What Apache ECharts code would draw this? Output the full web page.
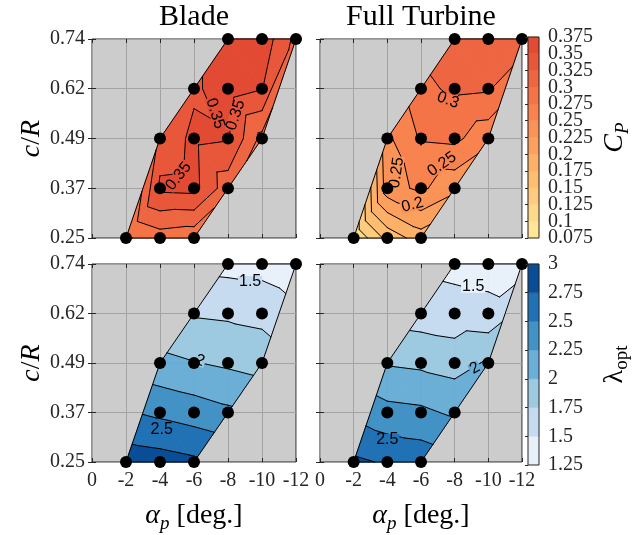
<!DOCTYPE html>
<html><head><meta charset="utf-8">
<script src="https://cdn.jsdelivr.net/npm/echarts@6/dist/echarts.min.js"></script>
<style>html,body{margin:0;padding:0;background:#fff}#c{width:633px;height:535px}</style>
</head><body><div id="c"></div>
<script>
// ---------- data ----------
const alphaP = [-2, -4, -6, -4, -6, -8, -4, -6, -8, -10, -6, -8, -10, -8, -10, -12];
const cR = [0.247, 0.247, 0.247, 0.3705, 0.3705, 0.3705, 0.494, 0.494, 0.494, 0.494, 0.6175, 0.6175, 0.6175, 0.741, 0.741, 0.741];
const cRTicks = [0.247, 0.3705, 0.494, 0.6175, 0.741];
const cRLabels = ['0.25', '0.37', '0.49', '0.62', '0.74'];
const alphaTicks = [0, -2, -4, -6, -8, -10, -12];

const cpBlade    = [0.272, 0.288, 0.283, 0.356, 0.358, 0.310, 0.332, 0.356, 0.352, 0.292, 0.346, 0.362, 0.351, 0.362, 0.366, 0.318];
const cpTurbine  = [0.102, 0.158, 0.188, 0.240, 0.255, 0.232, 0.245, 0.278, 0.281, 0.258, 0.292, 0.306, 0.303, 0.321, 0.323, 0.316];
const lamBlade   = [2.90, 2.86, 2.80, 2.45, 2.38, 2.30, 2.07, 2.01, 1.96, 1.90, 1.73, 1.71, 1.68, 1.42, 1.41, 1.33];
const lamTurbine = [2.80, 2.72, 2.66, 2.33, 2.30, 2.21, 1.98, 1.95, 1.90, 2.03, 1.63, 1.60, 1.57, 1.43, 1.41, 1.36];

const cpLevels = [0.075, 0.1, 0.125, 0.15, 0.175, 0.2, 0.225, 0.25, 0.275, 0.3, 0.325, 0.35, 0.375];
const cpTickLabels = ['0.075', '0.1', '0.125', '0.15', '0.175', '0.2', '0.225', '0.25', '0.275', '0.3', '0.325', '0.35', '0.375'];
const cpColors = ['#fee598', '#fed98a', '#fecc7e', '#fdbe72', '#fdb068', '#fca05e', '#fb9256', '#f8834e', '#f47448', '#ee6542', '#e9573b', '#e34a33'];
const lamLevels = [1.25, 1.5, 1.75, 2, 2.25, 2.5, 2.75, 3];
const lamTickLabels = ['1.25', '1.5', '1.75', '2', '2.25', '2.5', '2.75', '3'];
const lamColors = ['#e8f0f9', '#c6dbef', '#9ecae1', '#6baed6', '#4292c6', '#2171b5', '#084d96'];

// contour labels: [text, alpha, c/R, rotation deg]
const cpBladeLabels = [['0.35', -5.1, 0.400, 52], ['0.35', -7.25, 0.556, -72], ['0.35', -8.45, 0.552, 72]];
const cpTurbineLabels = [['0.3', -7.6, 0.589, -20], ['0.25', -4.55, 0.409, 82], ['0.25', -7.25, 0.430, 35], ['0.2', -5.5, 0.329, 15]];
const lamBladeLabels = [['1.5', -9.3, 0.696, 0], ['2', -6.35, 0.500, -20], ['2.5', -4.1, 0.327, 0]];
const lamTurbineLabels = [['1.5', -9.1, 0.684, 0], ['2', -9.2, 0.481, 30], ['2.5', -4.0, 0.302, 0]];

// ---------- triangulation (Delaunay, Bowyer-Watson) ----------
function delaunay(px, py) {
  const n = px.length, X = px.slice(), Y = py.slice();
  X.push(-1000, 1000, 0); Y.push(-1000, -1000, 1000);
  let tris = [[n, n + 1, n + 2]];
  function inCirc(t, x, y) {
    const a = t[0], b = t[1], c = t[2];
    const ax = X[a] - x, ay = Y[a] - y, bx = X[b] - x, by = Y[b] - y, cx = X[c] - x, cy = Y[c] - y;
    const det = (ax * ax + ay * ay) * (bx * cy - cx * by) - (bx * bx + by * by) * (ax * cy - cx * ay) + (cx * cx + cy * cy) * (ax * by - bx * ay);
    const o = (X[b] - X[a]) * (Y[c] - Y[a]) - (Y[b] - Y[a]) * (X[c] - X[a]);
    return o > 0 ? det > 0 : det < 0;
  }
  for (let i = 0; i < n; i++) {
    const bad = [], keep = [];
    tris.forEach(t => (inCirc(t, X[i], Y[i]) ? bad : keep).push(t));
    const edges = [];
    bad.forEach(t => {
      [[t[0], t[1]], [t[1], t[2]], [t[2], t[0]]].forEach(e => {
        const j = edges.findIndex(f => (f[0] === e[0] && f[1] === e[1]) || (f[0] === e[1] && f[1] === e[0]));
        if (j >= 0) edges.splice(j, 1); else edges.push(e);
      });
    });
    edges.forEach(e => keep.push([e[0], e[1], i]));
    tris = keep;
  }
  return tris.filter(t => t[0] < n && t[1] < n && t[2] < n);
}
const rowOf = cR.map(v => cRTicks.indexOf(v));
const tris = delaunay(alphaP, rowOf.map(r => r * 3));
const edgeCount = {};
tris.forEach(t => { for (let e = 0; e < 3; e++) { const a = t[e], b = t[(e + 1) % 3]; const k = Math.min(a, b) + '-' + Math.max(a, b); edgeCount[k] = (edgeCount[k] || 0) + 1; } });

function clipPoly(poly, L, above) {
  const out = [], n = poly.length;
  const inside = p => above ? p[2] >= L : p[2] <= L;
  const inter = (a, b) => { const s = (L - a[2]) / (b[2] - a[2]); return [a[0] + s * (b[0] - a[0]), a[1] + s * (b[1] - a[1]), L]; };
  for (let i = 0; i < n; i++) {
    const cur = poly[i], prev = poly[(i + n - 1) % n];
    const ci = inside(cur), pi = inside(prev);
    if (ci) { if (!pi) out.push(inter(prev, cur)); out.push(cur); }
    else if (pi) out.push(inter(prev, cur));
  }
  return out;
}
// linear interpolation of a panel's values at (x, y) in data space
function interpAt(vals, x, y) {
  for (const t of tris) {
    const [a, b, c] = t;
    const x1 = alphaP[a], y1 = cR[a], x2 = alphaP[b], y2 = cR[b], x3 = alphaP[c], y3 = cR[c];
    const d = (y2 - y3) * (x1 - x3) + (x3 - x2) * (y1 - y3);
    const l1 = ((y2 - y3) * (x - x3) + (x3 - x2) * (y - y3)) / d;
    const l2 = ((y3 - y1) * (x - x3) + (x1 - x3) * (y - y3)) / d;
    const l3 = 1 - l1 - l2;
    if (l1 >= -1e-9 && l2 >= -1e-9 && l3 >= -1e-9) return l1 * vals[a] + l2 * vals[b] + l3 * vals[c];
  }
  return null;
}

function contourRender(panel) {
  return function (params, api) {
    const t = tris[api.value(2)];
    const P = t.map(i => [alphaP[i], cR[i], panel.vals[i]]);
    const L = panel.levels, ch = [];
    for (let k = 0; k < L.length - 1; k++) {
      let poly = clipPoly(P, L[k], true);
      poly = clipPoly(poly, L[k + 1], false);
      if (poly.length >= 3) ch.push({ type: 'polygon', z2: 1, shape: { points: poly.map(q => api.coord([q[0], q[1]])) }, style: { fill: panel.colors[k], stroke: panel.colors[k], lineWidth: 0.7 } });
    }
    for (let k = 1; k < L.length - 1; k++) {
      const pts = [];
      for (let e = 0; e < 3; e++) {
        const a = P[e], b = P[(e + 1) % 3];
        if ((a[2] < L[k]) !== (b[2] < L[k])) {
          const s = (L[k] - a[2]) / (b[2] - a[2]);
          pts.push(api.coord([a[0] + s * (b[0] - a[0]), a[1] + s * (b[1] - a[1])]));
        }
      }
      if (pts.length === 2) ch.push({ type: 'line', z2: 5, shape: { x1: pts[0][0], y1: pts[0][1], x2: pts[1][0], y2: pts[1][1] }, style: { stroke: '#000', lineWidth: 1, lineCap: 'round' } });
    }
    for (let e = 0; e < 3; e++) {
      const a = t[e], b = t[(e + 1) % 3];
      if (edgeCount[Math.min(a, b) + '-' + Math.max(a, b)] === 1) {
        const p1 = api.coord([alphaP[a], cR[a]]), p2 = api.coord([alphaP[b], cR[b]]);
        ch.push({ type: 'line', z2: 5, shape: { x1: p1[0], y1: p1[1], x2: p2[0], y2: p2[1] }, style: { stroke: '#000', lineWidth: 1, lineCap: 'round' } });
      }
    }
    return { type: 'group', children: ch };
  };
}

// ---------- chart ----------
const serif = 'Liberation Serif', sans = 'Liberation Sans', tc = '#262626';
const panels = [
  { vals: cpBlade, levels: cpLevels, colors: cpColors, labels: cpBladeLabels },
  { vals: cpTurbine, levels: cpLevels, colors: cpColors, labels: cpTurbineLabels },
  { vals: lamBlade, levels: lamLevels, colors: lamColors, labels: lamBladeLabels },
  { vals: lamTurbine, levels: lamLevels, colors: lamColors, labels: lamTurbineLabels }
];
const gridBoxes = [
  { left: 92, top: 39, width: 204, height: 199 },
  { left: 320, top: 39, width: 202, height: 199 },
  { left: 92, top: 264, width: 204, height: 198 },
  { left: 320, top: 264, width: 202, height: 198 }
];
const cbBoxes = [
  { left: 528, top: 37, width: 17, height: 201 },
  { left: 528, top: 264, width: 17, height: 201 }
];
const nameRich = {
  i: { fontFamily: serif, fontStyle: 'italic', fontSize: 28, color: '#000' },
  n: { fontFamily: serif, fontSize: 28, color: '#000' },
  si: { fontFamily: serif, fontStyle: 'italic', fontSize: 19, color: '#000', padding: [16, 0, 0, 0] },
  sn: { fontFamily: serif, fontSize: 19, color: '#000', padding: [16, 0, 0, 0] }
};
const nameStyle = { fontFamily: serif, fontSize: 28, color: '#000', rich: nameRich };
const nearest = (arr, v) => { let b = 0; arr.forEach((a, i) => { if (Math.abs(a - v) < Math.abs(arr[b] - v)) b = i; }); return b; };

const grid = gridBoxes.map(g => Object.assign({ show: true, backgroundColor: '#cccccc', borderColor: tc, borderWidth: 1 }, g))
  .concat(cbBoxes.map(g => Object.assign({ show: false }, g)));

const xAxis = [], yAxis = [];
gridBoxes.forEach((g, i) => {
  xAxis.push({
    gridIndex: i, type: 'value', min: -12, max: 0, interval: 2, inverse: true,
    axisLine: { show: false },
    axisTick: { show: true, inside: true, length: 4, lineStyle: { color: tc } },
    axisLabel: { show: i >= 2, showMinLabel: true, showMaxLabel: true, hideOverlap: false, fontFamily: serif, fontSize: 20, color: tc, margin: 9, formatter: v => String(alphaTicks[nearest(alphaTicks, v)]) },
    splitLine: { show: true, lineStyle: { color: '#a3a3a3', width: 1 } },
    name: i >= 2 ? '{i|α}{si|p}{n| [deg.]}' : '', nameLocation: 'middle', nameGap: 36, nameTextStyle: nameStyle
  });
  yAxis.push({
    gridIndex: i, type: 'value', min: 0.247, max: 0.741, interval: 0.1235,
    axisLine: { show: false },
    axisTick: { show: true, inside: true, length: 4, lineStyle: { color: tc } },
    axisLabel: { show: i % 2 === 0, showMinLabel: true, showMaxLabel: true, hideOverlap: false, fontFamily: serif, fontSize: 20, color: tc, margin: 7, formatter: v => cRLabels[nearest(cRTicks, v)] },
    splitLine: { show: true, lineStyle: { color: '#a3a3a3', width: 1 } },
    name: i % 2 === 0 ? '{i|c}{n|/}{i|R}' : '', nameLocation: 'middle', nameGap: 46, nameTextStyle: nameStyle
  });
});
gridBoxes.forEach((g, i) => {
  xAxis.push({ gridIndex: i, type: 'value', position: 'top', min: -12, max: 0, interval: 2, inverse: true, axisLine: { show: false }, axisTick: { show: true, inside: true, length: 4, lineStyle: { color: tc } }, axisLabel: { show: false }, splitLine: { show: false } });
  yAxis.push({ gridIndex: i, type: 'value', position: 'right', min: 0.247, max: 0.741, interval: 0.1235, axisLine: { show: false }, axisTick: { show: true, inside: true, length: 4, lineStyle: { color: tc } }, axisLabel: { show: false }, splitLine: { show: false } });
});
const cbDefs = [
  { levels: cpLevels, colors: cpColors, ticks: cpTickLabels, interval: 0.025, name: '{i|C}{si|P}' },
  { levels: lamLevels, colors: lamColors, ticks: lamTickLabels, interval: 0.25, name: '{n|λ}{sn|opt}' }
];
cbDefs.forEach((cb, j) => {
  xAxis.push({ gridIndex: 4 + j, type: 'value', min: 0, max: 1, show: false });
  yAxis.push({
    gridIndex: 4 + j, type: 'value', position: 'right', z: 5,
    min: cb.levels[0], max: cb.levels[cb.levels.length - 1], interval: cb.interval,
    axisLine: { show: false },
    axisTick: { show: true, inside: true, length: 3, lineStyle: { color: tc } },
    axisLabel: { show: false },
    splitLine: { show: false },
    name: cb.name, nameLocation: 'middle', nameGap: 58, nameTextStyle: nameStyle
  });
});

const series = [];
panels.forEach((p, i) => {
  series.push({
    type: 'custom', xAxisIndex: i, yAxisIndex: i, z: 2, silent: true, clip: false,
    data: tris.map((t, k) => [(alphaP[t[0]] + alphaP[t[1]] + alphaP[t[2]]) / 3, (cR[t[0]] + cR[t[1]] + cR[t[2]]) / 3, k]),
    encode: { x: 0, y: 1 },
    renderItem: contourRender(p)
  });
  series.push({
    type: 'custom', xAxisIndex: i, yAxisIndex: i, z: 3, silent: true, clip: false,
    data: p.labels.map((l, k) => [l[1], l[2], k]),
    encode: { x: 0, y: 1 },
    renderItem: function (params, api) {
      const l = p.labels[api.value(2)];
      const c = api.coord([l[1], l[2]]);
      const v = interpAt(p.vals, l[1], l[2]);
      let bg = 'transparent';
      if (v != null) { let k = 0; while (k < p.colors.length - 1 && v >= p.levels[k + 1]) k++; bg = p.colors[k]; }
      return { type: 'text', x: c[0], y: c[1], rotation: l[3] * Math.PI / 180, style: { text: l[0], fill: '#000', fontFamily: sans, fontSize: 16, align: 'center', verticalAlign: 'middle', backgroundColor: bg, padding: [-2, 1, -2, 1] } };
    }
  });
  series.push({
    type: 'scatter', xAxisIndex: i, yAxisIndex: i, z: 4, silent: true, clip: false,
    symbol: 'circle', symbolSize: 12, itemStyle: { color: '#000', opacity: 1 },
    data: alphaP.map((a, k) => [a, cR[k]])
  });
});
cbDefs.forEach((cb, j) => {
  series.push({
    type: 'custom', xAxisIndex: 8 + j, yAxisIndex: 8 + j, z: 2, silent: true, clip: false,
    data: cb.colors.map((c, k) => [0.5, (cb.levels[k] + cb.levels[k + 1]) / 2, k]),
    encode: { x: 0, y: 1 },
    renderItem: function (params, api) {
      const k = api.value(2);
      const p1 = api.coord([0, cb.levels[k + 1]]), p2 = api.coord([1, cb.levels[k]]);
      const ch = [{ type: 'rect', z2: 1, shape: { x: p1[0], y: p1[1], width: p2[0] - p1[0], height: p2[1] - p1[1] }, style: { fill: cb.colors[k], stroke: cb.colors[k], lineWidth: 0.5 } }];
      if (k === 0) {
        const q1 = api.coord([0, cb.levels[cb.levels.length - 1]]), q2 = api.coord([1, cb.levels[0]]);
        ch.push({ type: 'rect', z2: 10, shape: { x: q1[0], y: q1[1], width: q2[0] - q1[0], height: q2[1] - q1[1] }, style: { fill: 'none', stroke: tc, lineWidth: 1 } });
      }
      return { type: 'group', children: ch };
    }
  });
  // colorbar tick labels
  series.push({
    type: 'custom', xAxisIndex: 8 + j, yAxisIndex: 8 + j, z: 2, silent: true, clip: false,
    data: cb.levels.map((v, k) => [1, v, k]),
    encode: { x: 0, y: 1 },
    renderItem: function (params, api) {
      const k = api.value(2);
      const c = api.coord([1, cb.levels[k]]);
      return { type: 'text', x: c[0] + 9, y: c[1], style: { text: cb.ticks[k], fill: tc, fontFamily: serif, fontSize: 20, align: 'left', verticalAlign: 'middle' } };
    }
  });
});

const chart = echarts.init(document.getElementById('c'), null, { renderer: 'canvas' });
chart.setOption({
  animation: false,
  backgroundColor: '#ffffff',
  grid, xAxis, yAxis, series,
  graphic: [
    { type: 'text', x: 194, y: 17, style: { text: 'Blade', fontFamily: serif, fontSize: 30, fill: '#000', align: 'center', verticalAlign: 'middle' } },
    { type: 'text', x: 421, y: 17, style: { text: 'Full Turbine', fontFamily: serif, fontSize: 30, fill: '#000', align: 'center', verticalAlign: 'middle' } }
  ]
});
</script></body></html>
